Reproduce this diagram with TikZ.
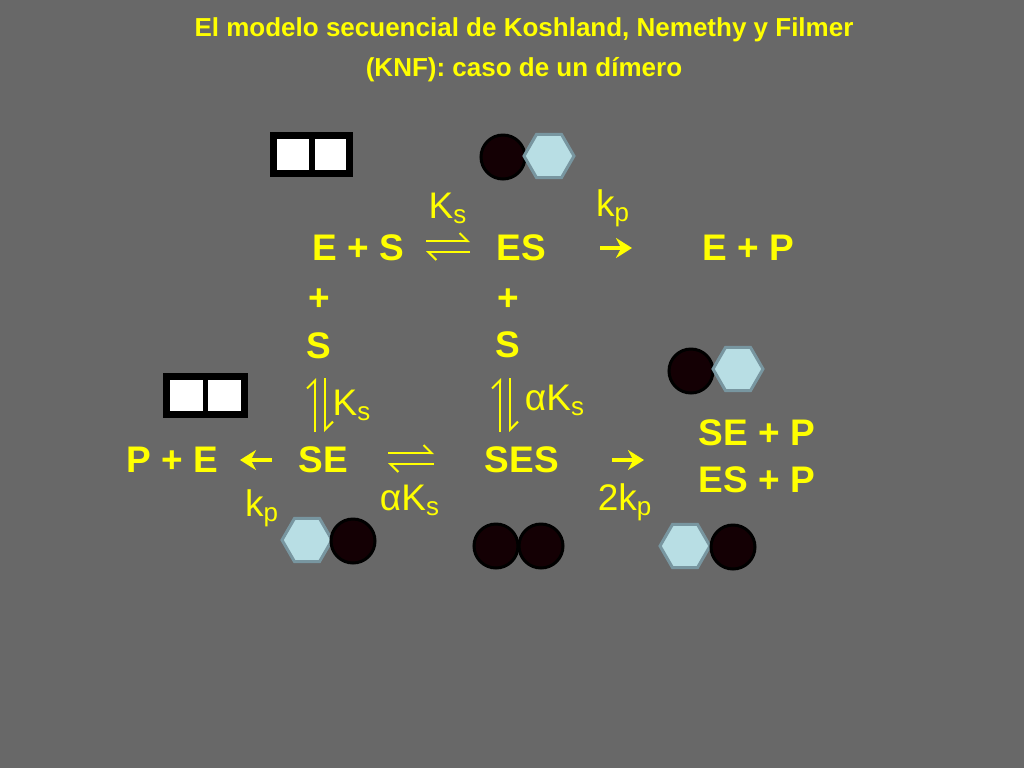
\documentclass[tikz,border=0pt]{standalone}
\usepackage{fontspec}
\setmainfont{Liberation Sans}
\usetikzlibrary{shapes.geometric,arrows.meta}
\definecolor{fondo}{RGB}{104,104,104}
\definecolor{amarillo}{RGB}{255,255,0}
\definecolor{celeste}{RGB}{184,222,228}
\definecolor{borde}{RGB}{120,150,160}
\definecolor{negro}{RGB}{20,0,4}
\tikzset{
  especie/.style={text=amarillo,font=\bfseries\fontsize{18.5}{20}\selectfont,inner sep=0pt},
  constante/.style={text=amarillo,font=\fontsize{18.5}{20}\selectfont,inner sep=0pt},
  titulo/.style={text=amarillo,font=\bfseries\fontsize{13}{15}\selectfont,inner sep=0pt},
  bola/.style={circle,draw=black,line width=1.5pt,fill=negro,minimum size=22pt,inner sep=0pt},
  hexa/.style={regular polygon,regular polygon sides=6,draw=borde,line width=1.5pt,fill=celeste,minimum size=25pt,inner sep=0pt},
  flecha/.style={amarillo,line width=2.2pt,-{Stealth[length=8pt,width=10pt]}},
  ida/.style={amarillo,line width=1pt,-{Straight Barb[left,length=4pt]}},
}
\begin{document}
\begin{tikzpicture}[x=0.5pt,y=0.5pt,yscale=-1]
    \fill[fondo] (0,0) rectangle (1024,768);
    
    \node[titulo] (t1) at (524,30) {El modelo secuencial de Koshland, Nemethy y Filmer};
    \node[titulo] (t2) at (524,70) {(KNF): caso de un dímero};
    
    % dimeros
    \fill[black] (270,132) rectangle (353,177);
    \fill[white] (277,139) rectangle (309,170);
    \fill[white] (315,139) rectangle (346,170);
    \fill[black] (163,373) rectangle (248,418);
    \fill[white] (170,380) rectangle (203,411);
    \fill[white] (208,380) rectangle (241,411);
    
    \node[bola] (b1) at (503,157) {};
    \node[hexa] (h1) at (549,156) {};
    \node[bola] (b2) at (691,371) {};
    \node[hexa] (h2) at (738,369) {};
    \node[hexa] (h3) at (307,540) {};
    \node[bola] (b3) at (353,541) {};
    \node[bola] (b4) at (496,546) {};
    \node[bola] (b5) at (541,546) {};
    \node[hexa] (h4) at (685,546) {};
    \node[bola] (b6) at (733,547) {};
    
    % fila superior
    \node[especie] (ES0) at (358,248) {E + S};
    \node[especie] (ES) at (521,248) {ES};
    \node[especie] (EP) at (748,248) {E + P};
    \coordinate (q1) at (426,241);
    \coordinate (q2) at (470,241);
    \coordinate (q3) at (426,252);
    \coordinate (q4) at (470,252);
    \draw[ida] (q1) -- (q2);
    \draw[ida] (q4) -- (q3);
    \node[constante] (k1) at (448,208) {K\textsubscript{s}};
    \node[constante] (k2) at (613,208) {k\textsubscript{p}};
    \coordinate (a1) at (600,248);
    \coordinate (a2) at (632,248);
    \draw[flecha] (a1) -- (a2);
    
    % sustratos
    \node[especie] (m1) at (319,300) {+};
    \node[especie] (s1) at (319,346) {S};
    \node[especie] (m2) at (508,300) {+};
    \node[especie] (s2) at (508,345) {S};
    \coordinate (v1) at (315,432);
    \coordinate (v2) at (315,378);
    \coordinate (v3) at (325,378);
    \coordinate (v4) at (325,432);
    \draw[ida] (v1) -- (v2);
    \draw[ida] (v3) -- (v4);
    \coordinate (w1) at (500,432);
    \coordinate (w2) at (500,378);
    \coordinate (w3) at (510,378);
    \coordinate (w4) at (510,432);
    \draw[ida] (w1) -- (w2);
    \draw[ida] (w3) -- (w4);
    \node[constante] (k3) at (352,405) {K\textsubscript{s}};
    \node[constante] (k4) at (555,400) {αK\textsubscript{s}};
    
    % fila inferior
    \node[especie] (PE) at (172,460) {P + E};
    \node[especie] (SE) at (323,460) {SE};
    \node[especie] (SES) at (522,460) {SES};
    \coordinate (a3) at (272,460);
    \coordinate (a4) at (240,460);
    \draw[flecha] (a3) -- (a4);
    \coordinate (r1) at (388,453);
    \coordinate (r2) at (434,453);
    \coordinate (r3) at (388,464);
    \coordinate (r4) at (434,464);
    \draw[ida] (r1) -- (r2);
    \draw[ida] (r4) -- (r3);
    \coordinate (a5) at (612,460);
    \coordinate (a6) at (644,460);
    \draw[flecha] (a5) -- (a6);
    \node[constante] (k5) at (262,508) {k\textsubscript{p}};
    \node[constante] (k6) at (410,500) {αK\textsubscript{s}};
    \node[constante] (k7) at (625,502) {2k\textsubscript{p}};
    \node[especie] (SEP) at (757,433) {SE + P};
    \node[especie] (ESP) at (757,480) {ES + P};
\end{tikzpicture}
\end{document}
